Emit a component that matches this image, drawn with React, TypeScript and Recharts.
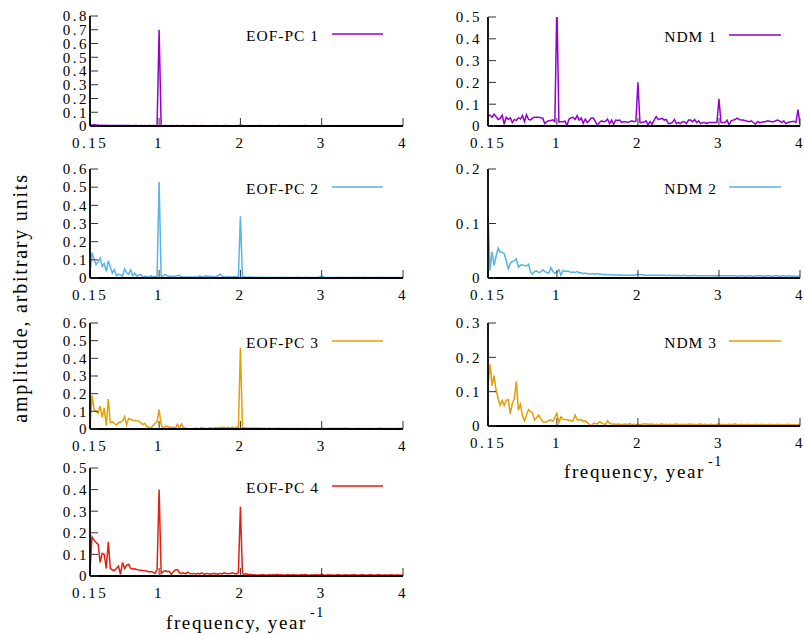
import { LineChart, Line, XAxis, YAxis } from "recharts";

// spectra sampled every 0.025 year^-1 from 0.15 to 4 (155 points)
const FREQ_START = 0.15;
const FREQ_STEP = 0.025;
const X_TICKS = [0.15, 1, 2, 3, 4];

const eofPc1 = [
  0.012, 0.006, 0.01, 0.005, 0.008, 0.004, 0.006, 0.004, 0.005, 0.003,
  0.004, 0.003, 0.004, 0.003, 0.004, 0.003, 0.003, 0.004, 0.003, 0.003,
  0.003, 0.002, 0.003, 0.003, 0.002, 0.003, 0.002, 0.003, 0.002, 0.003,
  0.002, 0.003, 0.002, 0.004, 0.7, 0.004, 0.002, 0.003, 0.002, 0.002,
  0.003, 0.002, 0.002, 0.003, 0.002, 0.002, 0.003, 0.002, 0.002, 0.002,
  0.002, 0.003, 0.002, 0.002, 0.002, 0.003, 0.002, 0.002, 0.002, 0.002,
  0.002, 0.002, 0.003, 0.002, 0.002, 0.002, 0.002, 0.003, 0.002, 0.002,
  0.002, 0.002, 0.002, 0.003, 0.006, 0.003, 0.002, 0.002, 0.002, 0.002,
  0.002, 0.002, 0.002, 0.002, 0.003, 0.002, 0.002, 0.002, 0.002, 0.002,
  0.002, 0.002, 0.002, 0.003, 0.002, 0.002, 0.002, 0.002, 0.002, 0.002,
  0.002, 0.002, 0.002, 0.002, 0.002, 0.002, 0.003, 0.002, 0.002, 0.002,
  0.002, 0.002, 0.002, 0.002, 0.004, 0.002, 0.002, 0.002, 0.002, 0.002,
  0.002, 0.002, 0.002, 0.002, 0.002, 0.002, 0.002, 0.002, 0.002, 0.002,
  0.002, 0.002, 0.002, 0.002, 0.002, 0.002, 0.002, 0.002, 0.002, 0.002,
  0.002, 0.002, 0.002, 0.002, 0.002, 0.002, 0.002, 0.002, 0.002, 0.002,
  0.002, 0.002, 0.002, 0.002, 0.002,
];

const eofPc2 = [
  0.03, 0.14, 0.1, 0.073, 0.09, 0.11, 0.064, 0.08, 0.037, 0.095,
  0.06, 0.027, 0.046, 0.013, 0.02, 0.018, 0.01, 0.05, 0.03, 0.02,
  0.045, 0.013, 0.027, 0.01, 0.015, 0.02, 0.005, 0.01, 0.008, 0.005,
  0.013, 0.005, 0.008, 0.01, 0.53, 0.008, 0.012, 0.02, 0.012, 0.01,
  0.01, 0.008, 0.01, 0.012, 0.015, 0.006, 0.005, 0.005, 0.006, 0.005,
  0.005, 0.006, 0.005, 0.005, 0.012, 0.006, 0.008, 0.012, 0.01, 0.008,
  0.01, 0.006, 0.008, 0.012, 0.022, 0.01, 0.006, 0.005, 0.008, 0.006,
  0.005, 0.01, 0.006, 0.008, 0.34, 0.006, 0.005, 0.004, 0.004, 0.005,
  0.004, 0.004, 0.003, 0.004, 0.003, 0.004, 0.003, 0.003, 0.004, 0.003,
  0.003, 0.004, 0.003, 0.003, 0.004, 0.003, 0.003, 0.004, 0.003, 0.003,
  0.003, 0.003, 0.004, 0.003, 0.003, 0.003, 0.004, 0.003, 0.003, 0.003,
  0.003, 0.003, 0.004, 0.006, 0.01, 0.004, 0.003, 0.003, 0.003, 0.003,
  0.003, 0.003, 0.003, 0.004, 0.003, 0.003, 0.003, 0.003, 0.003, 0.004,
  0.003, 0.003, 0.003, 0.003, 0.003, 0.004, 0.003, 0.003, 0.003, 0.003,
  0.003, 0.003, 0.004, 0.003, 0.003, 0.003, 0.003, 0.003, 0.003, 0.003,
  0.003, 0.003, 0.003, 0.003, 0.003,
];

const eofPc3 = [
  0.02, 0.19, 0.11, 0.1, 0.09, 0.13, 0.066, 0.12, 0.02, 0.17,
  0.035, 0.042, 0.03, 0.023, 0.036, 0.04, 0.045, 0.07, 0.023, 0.06,
  0.055, 0.05, 0.048, 0.046, 0.045, 0.035, 0.025, 0.032, 0.013, 0.01,
  0.004, 0.02, 0.032, 0.04, 0.11, 0.025, 0.0, 0.014, 0.015, 0.01,
  0.01, 0.008, 0.004, 0.026, 0.006, 0.028, 0.008, 0.004, 0.003, 0.002,
  0.003, 0.002, 0.006, 0.003, 0.002, 0.008, 0.003, 0.004, 0.002, 0.008,
  0.003, 0.006, 0.008, 0.005, 0.01, 0.008, 0.01, 0.006, 0.01, 0.004,
  0.012, 0.003, 0.012, 0.004, 0.46, 0.008, 0.006, 0.006, 0.005, 0.004,
  0.005, 0.004, 0.006, 0.004, 0.005, 0.003, 0.004, 0.003, 0.006, 0.003,
  0.003, 0.004, 0.003, 0.005, 0.003, 0.003, 0.004, 0.003, 0.003, 0.004,
  0.003, 0.003, 0.004, 0.003, 0.003, 0.003, 0.004, 0.003, 0.003, 0.003,
  0.003, 0.003, 0.003, 0.004, 0.006, 0.003, 0.003, 0.003, 0.003, 0.004,
  0.003, 0.005, 0.003, 0.003, 0.004, 0.003, 0.005, 0.003, 0.003, 0.003,
  0.003, 0.003, 0.004, 0.003, 0.003, 0.003, 0.003, 0.004, 0.003, 0.003,
  0.003, 0.003, 0.004, 0.005, 0.003, 0.003, 0.003, 0.004, 0.003, 0.003,
  0.003, 0.003, 0.004, 0.003, 0.006,
];

const eofPc4 = [
  0.03, 0.18, 0.166, 0.155, 0.146, 0.063, 0.105, 0.1, 0.035, 0.158,
  0.035, 0.028, 0.025, 0.035, 0.046, 0.008, 0.063, 0.035, 0.05, 0.054,
  0.035, 0.032, 0.033, 0.03, 0.028, 0.027, 0.025, 0.024, 0.022, 0.02,
  0.02, 0.018, 0.012, 0.03, 0.4, 0.012, 0.02, 0.025, 0.02, 0.022,
  0.008, 0.02, 0.028, 0.03, 0.015, 0.012, 0.015, 0.01, 0.018, 0.012,
  0.01, 0.012, 0.008, 0.012, 0.01, 0.015, 0.008, 0.01, 0.012, 0.008,
  0.01, 0.012, 0.01, 0.008, 0.012, 0.01, 0.015, 0.012, 0.01, 0.012,
  0.015, 0.012, 0.01, 0.015, 0.32, 0.01, 0.008, 0.01, 0.006, 0.008,
  0.005, 0.006, 0.004, 0.005, 0.005, 0.006, 0.005, 0.004, 0.006, 0.005,
  0.006, 0.005, 0.008, 0.005, 0.006, 0.005, 0.004, 0.006, 0.005, 0.005,
  0.006, 0.005, 0.005, 0.004, 0.006, 0.005, 0.007, 0.005, 0.004, 0.005,
  0.005, 0.006, 0.005, 0.005, 0.008, 0.005, 0.004, 0.006, 0.005, 0.005,
  0.004, 0.005, 0.006, 0.005, 0.004, 0.005, 0.006, 0.004, 0.005, 0.005,
  0.006, 0.005, 0.004, 0.005, 0.006, 0.005, 0.004, 0.005, 0.006, 0.005,
  0.004, 0.005, 0.006, 0.005, 0.004, 0.005, 0.005, 0.004, 0.006, 0.005,
  0.004, 0.005, 0.005, 0.004, 0.005,
];

const ndm1 = [
  0.045, 0.05, 0.04, 0.055, 0.043, 0.03, 0.035, 0.05, 0.008, 0.04,
  0.03, 0.037, 0.016, 0.03, 0.025, 0.038, 0.032, 0.048, 0.02, 0.052,
  0.03, 0.028, 0.036, 0.04, 0.04, 0.04, 0.038, 0.037, 0.011, 0.02,
  0.024, 0.025, 0.028, 0.02, 0.56, 0.018, 0.02, 0.02, 0.022, 0.003,
  0.032, 0.037, 0.04, 0.03, 0.048, 0.027, 0.037, 0.012, 0.032, 0.016,
  0.025, 0.037, 0.037, 0.02, 0.003, 0.016, 0.024, 0.02, 0.022, 0.032,
  0.011, 0.027, 0.008, 0.027, 0.025, 0.027, 0.016, 0.02, 0.02, 0.016,
  0.02, 0.024, 0.02, 0.022, 0.2, 0.016, 0.016, 0.018, 0.024, 0.005,
  0.02, 0.008, 0.027, 0.043, 0.03, 0.032, 0.035, 0.027, 0.03, 0.011,
  0.011, 0.016, 0.03, 0.011, 0.016, 0.011, 0.02, 0.02, 0.011, 0.027,
  0.027, 0.02, 0.03, 0.016, 0.024, 0.011, 0.016, 0.016, 0.011, 0.016,
  0.016, 0.016, 0.016, 0.016, 0.125, 0.016, 0.016, 0.016, 0.027, 0.005,
  0.024, 0.027, 0.03, 0.036, 0.03, 0.027, 0.027, 0.024, 0.022, 0.02,
  0.024, 0.016, 0.008, 0.02, 0.016, 0.016, 0.02, 0.02, 0.024, 0.022,
  0.02, 0.02, 0.024, 0.027, 0.022, 0.016, 0.024, 0.011, 0.016, 0.018,
  0.02, 0.022, 0.016, 0.075, 0.008,
];

const ndm2 = [
  0.115, 0.014, 0.048, 0.023, 0.04, 0.055, 0.048, 0.047, 0.045, 0.032,
  0.017, 0.027, 0.03, 0.032, 0.035, 0.02, 0.024, 0.024, 0.023, 0.022,
  0.025, 0.011, 0.007, 0.012, 0.013, 0.01, 0.011, 0.015, 0.012, 0.01,
  0.009, 0.019, 0.012, 0.009, 0.01, 0.015, 0.005, 0.014, 0.012, 0.013,
  0.012, 0.01, 0.011, 0.01, 0.012, 0.009, 0.01, 0.008, 0.009, 0.008,
  0.008, 0.007, 0.008, 0.007, 0.008, 0.007, 0.007, 0.006, 0.007, 0.006,
  0.006, 0.006, 0.005, 0.006, 0.005, 0.006, 0.005, 0.005, 0.005, 0.005,
  0.005, 0.005, 0.005, 0.006, 0.007, 0.006, 0.006, 0.005, 0.005, 0.005,
  0.005, 0.005, 0.005, 0.005, 0.005, 0.005, 0.005, 0.005, 0.004, 0.005,
  0.005, 0.004, 0.005, 0.004, 0.005, 0.004, 0.004, 0.005, 0.004, 0.004,
  0.004, 0.004, 0.005, 0.004, 0.004, 0.004, 0.004, 0.004, 0.004, 0.004,
  0.004, 0.004, 0.004, 0.004, 0.005, 0.004, 0.004, 0.004, 0.004, 0.004,
  0.004, 0.004, 0.004, 0.003, 0.004, 0.004, 0.004, 0.003, 0.004, 0.004,
  0.004, 0.003, 0.004, 0.004, 0.004, 0.004, 0.003, 0.004, 0.004, 0.004,
  0.003, 0.004, 0.004, 0.004, 0.003, 0.004, 0.004, 0.003, 0.004, 0.004,
  0.003, 0.004, 0.003, 0.003, 0.004,
];

const ndm3 = [
  0.118, 0.18, 0.118, 0.147, 0.104, 0.08, 0.06, 0.075, 0.06, 0.075,
  0.077, 0.035, 0.065, 0.08, 0.13, 0.046, 0.063, 0.03, 0.015, 0.032,
  0.048, 0.042, 0.037, 0.017, 0.025, 0.032, 0.022, 0.0125, 0.012, 0.012,
  0.016, 0.018, 0.014, 0.025, 0.037, 0.01, 0.027, 0.02, 0.019, 0.018,
  0.017, 0.016, 0.015, 0.032, 0.018, 0.017, 0.019, 0.013, 0.015, 0.01,
  0.005, 0.0, 0.008, 0.007, 0.006, 0.0125, 0.01, 0.006, 0.004, 0.015,
  0.008, 0.006, 0.006, 0.005, 0.005, 0.006, 0.004, 0.005, 0.006, 0.004,
  0.007, 0.004, 0.005, 0.004, 0.005, 0.004, 0.005, 0.006, 0.006, 0.005,
  0.005, 0.006, 0.004, 0.005, 0.004, 0.005, 0.006, 0.004, 0.005, 0.004,
  0.005, 0.004, 0.005, 0.006, 0.004, 0.005, 0.004, 0.005, 0.004, 0.005,
  0.006, 0.004, 0.005, 0.004, 0.005, 0.006, 0.004, 0.005, 0.004, 0.004,
  0.005, 0.004, 0.004, 0.005, 0.006, 0.004, 0.005, 0.004, 0.004, 0.005,
  0.004, 0.005, 0.006, 0.004, 0.004, 0.005, 0.004, 0.004, 0.005, 0.004,
  0.004, 0.004, 0.005, 0.004, 0.004, 0.005, 0.004, 0.004, 0.004, 0.005,
  0.004, 0.004, 0.004, 0.005, 0.004, 0.004, 0.004, 0.004, 0.005, 0.004,
  0.004, 0.004, 0.004, 0.004, 0.005,
];

const yTicks08 = [0, 0.1, 0.2, 0.3, 0.4, 0.5, 0.6, 0.7, 0.8];
const yTicks06 = [0, 0.1, 0.2, 0.3, 0.4, 0.5, 0.6];
const yTicks05 = [0, 0.1, 0.2, 0.3, 0.4, 0.5];
const yTicks03 = [0, 0.1, 0.2, 0.3];
const yTicks02 = [0, 0.1, 0.2];

const frequencies = eofPc1.map((_, i) => +(FREQ_START + i * FREQ_STEP).toFixed(3));

const PURPLE = "#9400d3";
const BLUE = "#56b4e9";
const ORANGE = "#e69f00";
const RED = "#e51e10";

const FONT = "'Liberation Serif', 'Times New Roman', serif";

// column geometry (plot area in page pixels)
const LEFT_COL = { x: 90, w: 313, tickGap: 9, textEnd: 319, lineFrom: 332, lineTo: 383 };
const RIGHT_COL = { x: 488, w: 312, tickGap: 14, textEnd: 717, lineFrom: 729, lineTo: 781 };

const panels = [
  { label: "EOF-PC 1", values: eofPc1, color: PURPLE, yTicks: yTicks08, col: LEFT_COL, top: 16, h: 110 },
  { label: "EOF-PC 2", values: eofPc2, color: BLUE, yTicks: yTicks06, col: LEFT_COL, top: 169, h: 109 },
  { label: "EOF-PC 3", values: eofPc3, color: ORANGE, yTicks: yTicks06, col: LEFT_COL, top: 323, h: 106 },
  { label: "EOF-PC 4", values: eofPc4, color: RED, yTicks: yTicks05, col: LEFT_COL, top: 468, h: 108 },
  { label: "NDM 1", values: ndm1, color: PURPLE, yTicks: yTicks05, col: RIGHT_COL, top: 17, h: 109 },
  { label: "NDM 2", values: ndm2, color: BLUE, yTicks: yTicks02, col: RIGHT_COL, top: 169, h: 109 },
  { label: "NDM 3", values: ndm3, color: ORANGE, yTicks: yTicks03, col: RIGHT_COL, top: 323, h: 103 },
];

const PAD_L = 60;
const PAD_T = 10;
const PAD_R = 10;
const PAD_B = 35;
const TICK = -8;

const axisLine = { stroke: "#000", strokeWidth: 1.8 };
const tickLine = { stroke: "#333", strokeWidth: 1 };
const tickText = { fill: "#000", fontSize: 15, fontFamily: FONT };

function Panel({ p }: { p: (typeof panels)[number] }) {
  const data = frequencies.map((f, i) => ({ f, v: p.values[i] }));
  const yMax = p.yTicks[p.yTicks.length - 1];
  return (
    <div style={{ position: "absolute", left: p.col.x - PAD_L, top: p.top - PAD_T, letterSpacing: "2.5px" }}>
      <LineChart
        width={p.col.w + PAD_L + PAD_R}
        height={p.h + PAD_T + PAD_B}
        data={data}
        margin={{ top: PAD_T, right: PAD_R, bottom: 0, left: 0 }}
      >
        <XAxis
          xAxisId="b"
          dataKey="f"
          type="number"
          domain={[0.15, 4]}
          allowDataOverflow
          ticks={X_TICKS}
          interval={0}
          height={PAD_B}
          tickSize={TICK}
          tickMargin={19}
          axisLine={axisLine}
          tickLine={tickLine}
          tick={tickText}
        />
        <XAxis
          xAxisId="t"
          orientation="top"
          dataKey="f"
          type="number"
          domain={[0.15, 4]}
          allowDataOverflow
          ticks={X_TICKS}
          interval={0}
          height={0}
          tickSize={TICK}
          axisLine={axisLine}
          tickLine={tickLine}
          tick={false}
        />
        <YAxis
          yAxisId="l"
          type="number"
          domain={[0, yMax]}
          allowDataOverflow
          ticks={p.yTicks}
          interval={0}
          width={PAD_L}
          tickSize={TICK}
          tickMargin={p.col.tickGap}
          axisLine={axisLine}
          tickLine={tickLine}
          tick={tickText}
        />
        <YAxis
          yAxisId="r"
          orientation="right"
          type="number"
          domain={[0, yMax]}
          allowDataOverflow
          ticks={p.yTicks}
          interval={0}
          width={0}
          tickSize={TICK}
          axisLine={axisLine}
          tickLine={tickLine}
          tick={false}
        />
        <Line
          xAxisId="b"
          yAxisId="l"
          type="linear"
          dataKey="v"
          stroke={p.color}
          strokeWidth={1.5}
          dot={false}
          isAnimationActive={false}
        />
      </LineChart>
    </div>
  );
}

function XTitle({ x, y }: { x: number; y: number }) {
  return (
    <text x={x} y={y} fontSize={19} letterSpacing={1.6} fill="#000">
      frequency, year
      <tspan dx={3} dy={-12} fontSize={14}>
        -1
      </tspan>
    </text>
  );
}

export default function App() {
  return (
    <div
      style={{
        position: "absolute",
        left: 0,
        top: 0,
        width: 805,
        height: 634,
        background: "#fff",
        fontFamily: FONT,
      }}
    >
      {panels.map((p) => (
        <Panel key={p.label} p={p} />
      ))}
      <svg
        width={805}
        height={634}
        style={{ position: "absolute", left: 0, top: 0, pointerEvents: "none", fontFamily: FONT }}
      >
        {panels.map((p) => (
          <g key={p.label}>
            <text
              x={p.col.textEnd}
              y={p.top + 24.5}
              textAnchor="end"
              fontSize={15.5}
              letterSpacing={1}
              fill="#000"
            >
              {p.label}
            </text>
            <line
              x1={p.col.lineFrom}
              x2={p.col.lineTo}
              y1={p.top + 18}
              y2={p.top + 18}
              stroke={p.color}
              strokeWidth={1.5}
            />
          </g>
        ))}
        <text
          transform="translate(27,298) rotate(-90)"
          textAnchor="middle"
          fontSize={20}
          letterSpacing={1.8}
          fill="#000"
        >
          amplitude, arbitrary units
        </text>
        <XTitle x={166} y={629} />
        <XTitle x={564} y={478} />
      </svg>
    </div>
  );
}
